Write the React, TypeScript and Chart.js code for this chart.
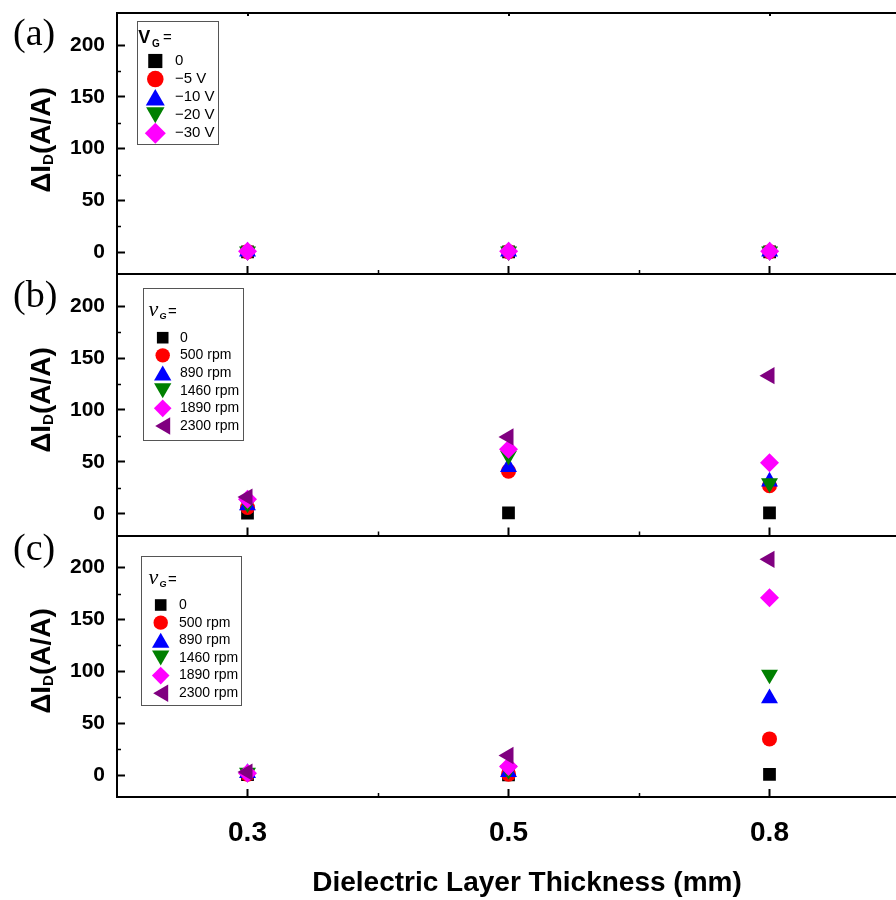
import React, { useEffect, useRef } from 'react';
import { Chart, registerables } from 'chart.js';
import { drawPoint } from 'chart.js/helpers';

Chart.register(...registerables);

// ---------------- data ----------------
const thicknessLabels = ['0.3', '0.5', '0.8'];
const yMajorTicks = [0, 50, 100, 150, 200];
const yMinorTicks = [25, 75, 125, 175];
const xMinorTicks = [0.5, 1.5];

const gateVoltageLabels = ['0', '\u22125 V', '\u221210 V', '\u221220 V', '\u221230 V'];
const a_0V = [0.4, 0.4, 0.4];
const a_m5V = [0.6, 0.6, 0.6];
const a_m10V = [0.6, 0.7, 0.7];
const a_m20V = [0.9, 0.8, 0.9];
const a_m30V = [0.9, 0.9, 1.0];

const speedLabels = ['0', '500 rpm', '890 rpm', '1460 rpm', '1890 rpm', '2300 rpm'];
const b_0 = [0.5, 0.7, 0.8];
const b_500 = [6, 41, 27];
const b_890 = [8, 45, 31];
const b_1460 = [10, 56, 29.5];
const b_1890 = [14, 62, 49];
const b_2300 = [16, 74, 133];

const c_0 = [0.5, 0.3, 0.7];
const c_500 = [1, 1, 35];
const c_890 = [2, 3, 74];
const c_1460 = [2.5, 5, 97];
const c_1890 = [2, 8.5, 171];
const c_2300 = [3, 19, 208];

// ---------------- styles ----------------
const SANS = '"Liberation Sans", Arial, sans-serif';
const SERIF = '"Liberation Serif", "Times New Roman", serif';
const W = 910;
const H = 900;
const AXIS_LEFT = 117;
const RIGHT_EDGE = 905;

const markerColors = ['#000000', '#ff0000', '#0000ff', '#008000', '#ff00ff', '#800080'];
const markerShapes = ['rect', 'circle', 'triangle', 'triangle', 'rectRot', 'triangle'];
const markerRotations = [0, 0, 0, 180, 0, 270];
const markerRadii = [9, 7.5, 9.8, 9.8, 9.5, 10];

type TitlePart = { text: string; font: string; x: number; y: number };
type LegendCfg = {
  box: [number, number, number, number];
  markerX: number;
  textX: number;
  rowY0: number;
  rowStep: number;
  fontSize: number;
  radii: number[];
  title: TitlePart[];
};
type Panel = {
  tag: string;
  tagY: number;
  top: number;
  bottom: number;
  series: number[][];
  names: string[];
  titleCY: number;
  topBorder: boolean;
  isBottom: boolean;
  legend: LegendCfg;
};

const panels: Panel[] = [
  {
    tag: '(a)', tagY: 44.5, top: 13, bottom: 274,
    series: [a_0V, a_m5V, a_m10V, a_m20V, a_m30V], names: gateVoltageLabels,
    titleCY: 140, topBorder: true, isBottom: false,
    legend: {
      box: [136.5, 21, 80.5, 123], markerX: 155.3, textX: 175, rowY0: 61, rowStep: 18.07, fontSize: 15,
      radii: [10, 8.3, 11, 10.6, 10.5],
      title: [
        { text: 'V', font: `bold 18px ${SANS}`, x: 138.3, y: 42.7 },
        { text: 'G', font: `bold 10px ${SANS}`, x: 152, y: 47 },
        { text: '=', font: `15px ${SANS}`, x: 163, y: 41.5 },
      ],
    },
  },
  {
    tag: '(b)', tagY: 307, top: 274, bottom: 535.5,
    series: [b_0, b_500, b_890, b_1460, b_1890, b_2300], names: speedLabels,
    titleCY: 400, topBorder: false, isBottom: false,
    legend: {
      box: [142.7, 288.3, 99.6, 152.4], markerX: 162.7, textX: 180, rowY0: 337.7, rowStep: 17.66, fontSize: 14,
      radii: [8.2, 7.2, 10, 10, 8.8, 10],
      title: [
        { text: 'v', font: `italic 22px ${SERIF}`, x: 148.5, y: 316 },
        { text: 'G', font: `italic bold 9px ${SANS}`, x: 159.5, y: 319 },
        { text: '=', font: `15px ${SANS}`, x: 168, y: 316 },
      ],
    },
  },
  {
    tag: '(c)', tagY: 560, top: 535.5, bottom: 797,
    series: [c_0, c_500, c_890, c_1460, c_1890, c_2300], names: speedLabels,
    titleCY: 661, topBorder: false, isBottom: true,
    legend: {
      box: [140.7, 556, 100, 149], markerX: 160.7, textX: 179, rowY0: 605, rowStep: 17.65, fontSize: 14,
      radii: [8.2, 7.2, 10, 10, 8.8, 10],
      title: [
        { text: 'v', font: `italic 22px ${SERIF}`, x: 148.5, y: 584 },
        { text: 'G', font: `italic bold 9px ${SANS}`, x: 159.5, y: 587 },
        { text: '=', font: `15px ${SANS}`, x: 168, y: 584 },
      ],
    },
  },
];

const decorPlugin = {
  id: 'panelDecor',
  afterDraw(chart: any, _args: any, opts: any) {
    const panel: Panel = opts.panel;
    if (!panel) return;
    const ctx: CanvasRenderingContext2D = chart.ctx;
    const area = chart.chartArea;
    const ys = chart.scales.y;
    const xs = chart.scales.x;
    ctx.save();

    // top border of the first panel, with small inward ticks at the categories
    if (panel.topBorder) {
      ctx.strokeStyle = '#000';
      ctx.lineWidth = 2;
      ctx.beginPath();
      ctx.moveTo(area.left - 1, area.top);
      ctx.lineTo(area.right, area.top);
      thicknessLabels.forEach((_l, i) => {
        const px = Math.round(xs.getPixelForValue(i));
        ctx.moveTo(px, area.top);
        ctx.lineTo(px, area.top + 3);
      });
      ctx.stroke();
    }

    // minor ticks (inward)
    ctx.strokeStyle = '#000';
    ctx.lineWidth = 1.5;
    ctx.beginPath();
    for (const v of yMinorTicks) {
      const py = Math.round(ys.getPixelForValue(v)) + 0.5;
      ctx.moveTo(area.left, py);
      ctx.lineTo(area.left + 4, py);
    }
    for (const v of xMinorTicks) {
      const px = Math.round(xs.getPixelForValue(v)) + 0.5;
      ctx.moveTo(px, area.bottom);
      ctx.lineTo(px, area.bottom - 4);
    }
    ctx.stroke();

    // panel tag
    ctx.fillStyle = '#000';
    ctx.textAlign = 'left';
    ctx.textBaseline = 'alphabetic';
    ctx.font = `38px ${SERIF}`;
    ctx.fillText(panel.tag, 13, panel.tagY);

    // y-axis title  ΔI_D(A/A)
    ctx.save();
    ctx.translate(50, panel.titleCY);
    ctx.rotate(-Math.PI / 2);
    const big = `bold 28px ${SANS}`;
    const sub = `bold 15px ${SANS}`;
    ctx.font = big;
    const w1 = ctx.measureText('\u0394I').width;
    const w3 = ctx.measureText('(A/A)').width;
    ctx.font = sub;
    const w2 = ctx.measureText('D').width;
    let sx = -(w1 + w2 + w3) / 2;
    ctx.font = big;
    ctx.fillText('\u0394I', sx, 0);
    sx += w1;
    ctx.font = sub;
    ctx.fillText('D', sx, 3);
    sx += w2;
    ctx.font = big;
    ctx.fillText('(A/A)', sx, 0);
    ctx.restore();

    // legend
    const lg = panel.legend;
    ctx.fillStyle = '#fff';
    ctx.fillRect(lg.box[0], lg.box[1], lg.box[2], lg.box[3]);
    ctx.strokeStyle = '#555';
    ctx.lineWidth = 1;
    ctx.strokeRect(Math.round(lg.box[0]) + 0.5, Math.round(lg.box[1]) + 0.5, Math.round(lg.box[2]), Math.round(lg.box[3]));
    ctx.fillStyle = '#000';
    ctx.textBaseline = 'alphabetic';
    for (const t of lg.title) {
      ctx.font = t.font;
      ctx.fillText(t.text, t.x, t.y);
    }
    chart.data.datasets.forEach((ds: any, i: number) => {
      const rowY = lg.rowY0 + i * lg.rowStep;
      const r = lg.radii[i];
      const rot = markerRotations[i];
      let mx = lg.markerX;
      let my = rowY;
      if (markerShapes[i] === 'triangle') {
        if (rot === 0) my += r / 4;
        else if (rot === 180) my -= r / 4;
        else if (rot === 270) mx += r / 4;
      }
      ctx.fillStyle = markerColors[i];
      drawPoint(ctx, { pointStyle: markerShapes[i], rotation: rot, radius: r, borderWidth: 0 } as any, mx, my);
      ctx.fillStyle = '#000';
      ctx.font = `${lg.fontSize}px ${SANS}`;
      ctx.textBaseline = 'middle';
      ctx.fillText(ds.label, lg.textX, rowY);
      ctx.textBaseline = 'alphabetic';
    });

    // x-axis title on the bottom panel
    if (panel.isBottom) {
      ctx.font = `bold 28px ${SANS}`;
      ctx.textAlign = 'center';
      ctx.textBaseline = 'middle';
      ctx.fillText('Dielectric Layer Thickness (mm)', 527, 883);
    }
    ctx.restore();
  },
};

function buildConfig(panel: Panel): any {
  const datasets = panel.series.map((vals, i) => ({
    label: panel.names[i],
    data: vals,
    showLine: false,
    borderColor: markerColors[i],
    backgroundColor: markerColors[i],
    pointStyle: markerShapes[i],
    pointRotation: markerRotations[i],
    pointRadius: markerRadii[i],
    pointBackgroundColor: markerColors[i],
    pointBorderWidth: 0,
    order: panel.series.length - i,
  }));

  const scales: any = {
    x: {
      type: 'category',
      position: 'bottom',
      offset: true,
      grid: {
        display: true, drawOnChartArea: false, drawTicks: true,
        tickLength: -8, tickColor: '#000', tickWidth: 2, offset: false,
      },
      border: { display: true, color: '#000', width: 2 },
      ticks: {
        display: panel.isBottom,
        font: { family: SANS, size: 28, weight: 'bold' },
        color: '#000', padding: 27, maxRotation: 0, autoSkip: false,
      },
      afterFit: (s: any) => {
        s.height = panel.isBottom ? H - panel.bottom : 0;
        s.paddingLeft = 0;
        s.paddingRight = 0;
      },
    },
    y: {
      type: 'linear',
      min: -21,
      max: 231,
      afterBuildTicks: (s: any) => { s.ticks = yMajorTicks.map((v) => ({ value: v })); },
      grid: {
        display: true, drawOnChartArea: false, drawTicks: true,
        tickLength: -8, tickColor: '#000', tickWidth: 2,
      },
      border: { display: true, color: '#000', width: 2 },
      ticks: { font: { family: SANS, size: 21, weight: 'bold' }, color: '#000', padding: 20 },
      afterFit: (s: any) => {
        s.width = AXIS_LEFT;
        s.paddingTop = 0;
        s.paddingBottom = 0;
      },
    },
  };

  return {
    type: 'line',
    data: { labels: thicknessLabels, datasets },
    options: {
      responsive: false,
      maintainAspectRatio: false,
      animation: false,
      events: [],
      devicePixelRatio: 1,
      layout: {
        padding: {
          top: panel.top,
          bottom: panel.isBottom ? 0 : H - panel.bottom,
          left: 0,
          right: W - RIGHT_EDGE,
        },
      },
      plugins: {
        legend: { display: false },
        tooltip: { enabled: false },
        title: { display: false },
        panelDecor: { panel },
      },
      scales,
    },
    plugins: [decorPlugin],
  };
}

function PanelChart({ panel }: { panel: Panel }) {
  const ref = useRef<HTMLCanvasElement>(null);
  useEffect(() => {
    const chart = new Chart(ref.current as HTMLCanvasElement, buildConfig(panel));
    return () => chart.destroy();
  }, [panel]);
  return (
    <canvas
      ref={ref}
      width={W}
      height={H}
      style={{ position: 'absolute', left: 0, top: 0, width: W, height: H }}
    />
  );
}

export default function App() {
  return (
    <div
      style={{
        position: 'absolute', left: 0, top: 0, width: 896, height: 900,
        overflow: 'hidden', background: '#fff',
      }}
    >
      {panels.map((p) => (
        <PanelChart key={p.tag} panel={p} />
      ))}
    </div>
  );
}
